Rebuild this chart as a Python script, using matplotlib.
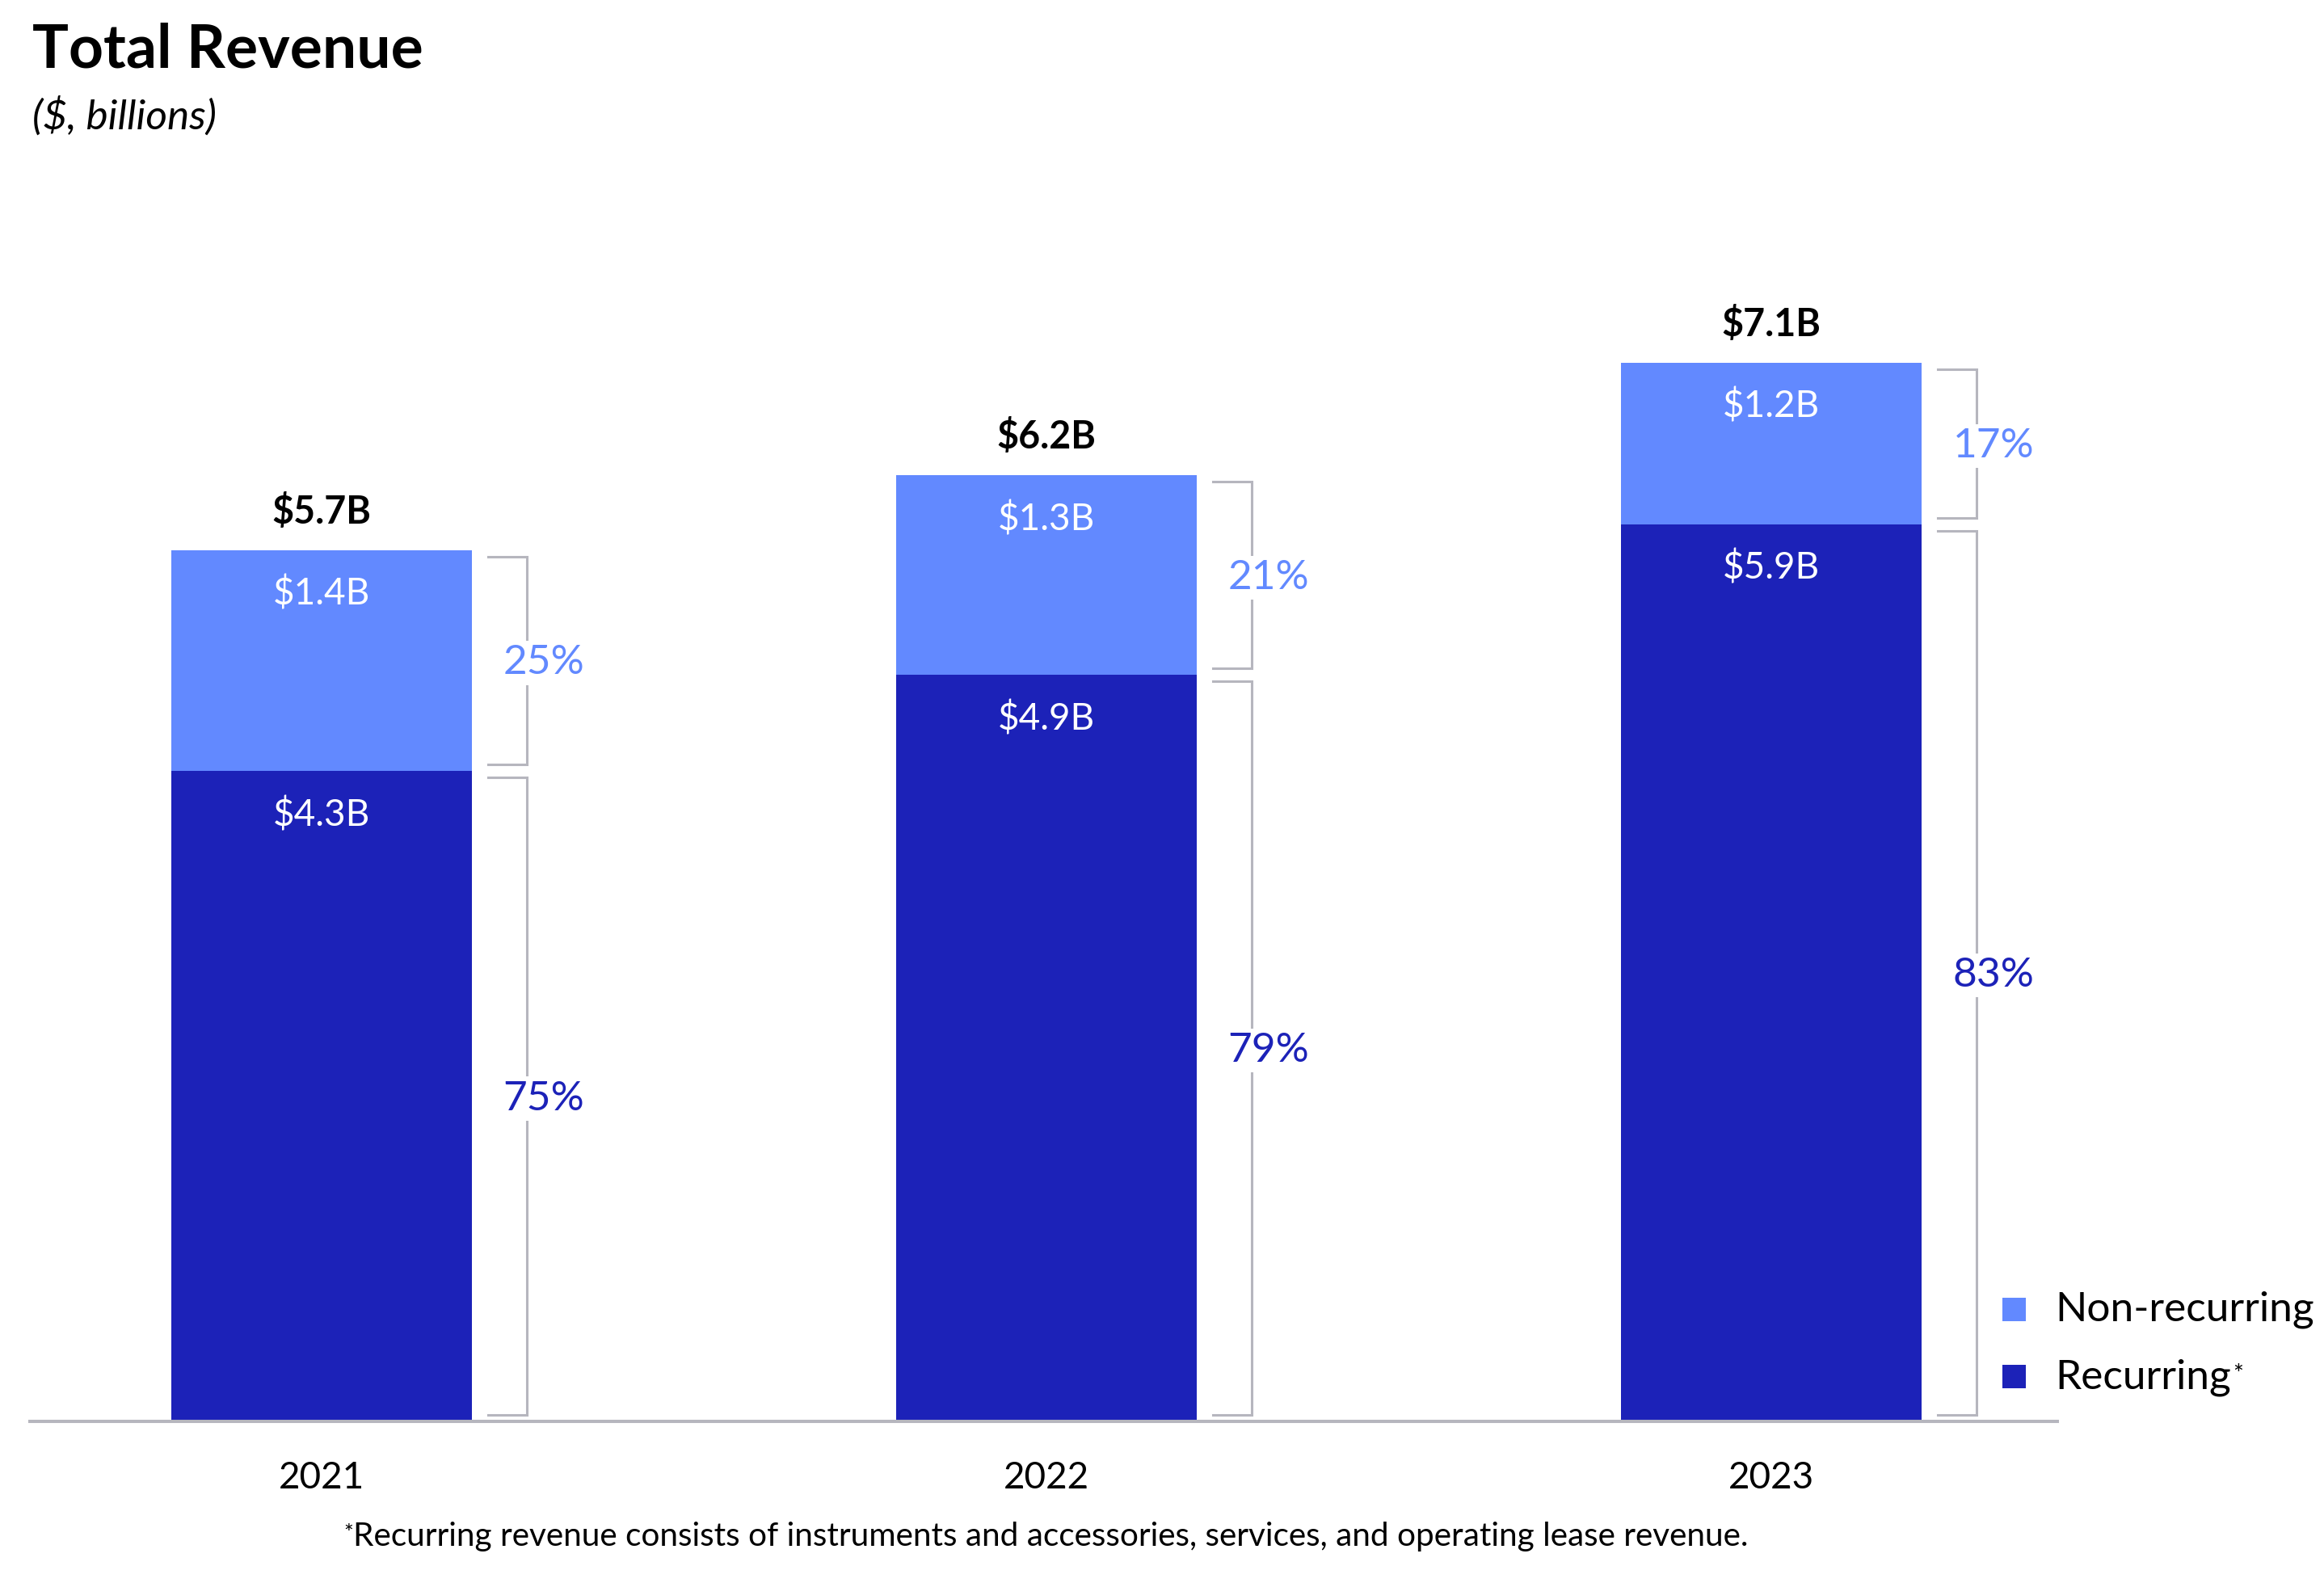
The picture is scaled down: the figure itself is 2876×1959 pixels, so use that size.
import matplotlib
matplotlib.use("Agg")
import matplotlib.pyplot as plt
from matplotlib.patches import Rectangle

plt.rcParams['font.family'] = ['Lato', 'DejaVu Sans']

#############################################################

years = ['2021', '2022', '2023']
recurring = [4.27, 4.90, 5.89]        # $B
non_recurring = [1.45, 1.31, 1.06]
recurring_labels = ['$4.3B', '$4.9B', '$5.9B']
non_recurring_labels = ['$1.4B', '$1.3B', '$1.2B']
total_labels = ['$5.7B', '$6.2B', '$7.1B']
recurring_pct = [75, 79, 83]
non_recurring_pct = [25, 21, 17]

DARK = '#1c22b8'
LIGHT = '#6289ff'
GRAY = '#b6b6be'

W, H, DPI = 2876, 1959, 200

#############################################################

fig = plt.figure(figsize=(W / DPI, H / DPI), dpi=DPI)
ax_left, ax_right, ax_bottom, ax_top = 37, 2546, 1759, 300
ax = fig.add_axes([ax_left / W, (H - ax_bottom) / H,
                   (ax_right - ax_left) / W, (ax_bottom - ax_top) / H])

xlim = (-0.4025, 2.3946)
ylim = (0, 7.74)
ax.set_xlim(*xlim)
ax.set_ylim(*ylim)
# data units per pixel
dx = (xlim[1] - xlim[0]) / (ax_right - ax_left)
dy = (ylim[1] - ylim[0]) / (ax_bottom - ax_top)

x = list(range(len(years)))
bw = 0.4147
ax.bar(x, recurring, bw, color=DARK, label='Recurring', zorder=1)
ax.bar(x, non_recurring, bw, bottom=recurring, color=LIGHT, label='Non-recurring', zorder=1)

for s in ['top', 'right', 'left']:
    ax.spines[s].set_visible(False)
ax.spines['bottom'].set_color(GRAY)
ax.spines['bottom'].set_linewidth(1.45)
ax.spines['bottom'].set_zorder(3)
ax.set_yticks([])
ax.set_xticks([])


def bracket(xr, lo, hi, pct, color):
    y0 = lo + 8 * dy
    y1 = hi - 8 * dy
    xt = xr + 20 * dx
    xv = xr + 68 * dx
    ax.plot([xt, xv, xv, xt], [y1, y1, y0, y0], color=GRAY, lw=1.1,
            solid_joinstyle='miter', zorder=2)
    ax.text(xv + 21 * dx, (y0 + y1) / 2 - 17 * dy, f'{pct}%', ha='center', va='baseline',
            fontsize=18.5, color=color, zorder=4,
            bbox=dict(facecolor='white', edgecolor='none', pad=1.5))


for i in x:
    rec, non = recurring[i], non_recurring[i]
    top = rec + non
    ax.text(i, top + 33 * dy, total_labels[i], ha='center', va='baseline',
            fontsize=16.8, fontweight='bold', color='black')
    ax.text(i, top - 68 * dy, non_recurring_labels[i], ha='center', va='baseline',
            fontsize=16.5, color='white')
    ax.text(i, rec - 68 * dy, recurring_labels[i], ha='center', va='baseline',
            fontsize=16.5, color='white')
    xr = i + bw / 2
    bracket(xr, rec, top, non_recurring_pct[i], LIGHT)
    bracket(xr, 0, rec, recurring_pct[i], DARK)
    ax.text(i, -(1842 - ax_bottom) * dy, years[i], ha='center', va='baseline',
            fontsize=16.5, color='black', clip_on=False)

# title
fig.text(40 / W, 1 - 83 / H, 'Total Revenue', ha='left', va='baseline',
         fontsize=27, fontweight='bold')
fig.text(40 / W, 1 - 160 / H, '($, billions)', ha='left', va='baseline',
         fontsize=18.5, fontstyle='italic')

# legend
for lbl, color, base in [('Non-recurring', LIGHT, 1635), ('Recurring', DARK, 1718)]:
    fig.add_artist(Rectangle((2478 / W, 1 - base / H), 29 / W, 29 / H,
                             transform=fig.transFigure, facecolor=color, edgecolor='none'))
    t = fig.text(2543 / W, 1 - base / H, lbl, ha='left', va='baseline', fontsize=18.5)
    if lbl == 'Recurring':
        ax.annotate('*', xy=(1, 1), xycoords=t, xytext=(1, -2), textcoords='offset points',
                    ha='left', va='top', fontsize=11)

# footnote
foot = fig.text(1300 / W, 1 - 1913 / H,
                'Recurring revenue consists of instruments and accessories, services, and operating lease revenue.',
                ha='center', va='baseline', fontsize=14.6)
ax.annotate('*', xy=(0, 1), xycoords=foot, xytext=(0, -1), textcoords='offset points',
            ha='right', va='top', fontsize=10)

fig.savefig('out.png', dpi=DPI, facecolor='white')
